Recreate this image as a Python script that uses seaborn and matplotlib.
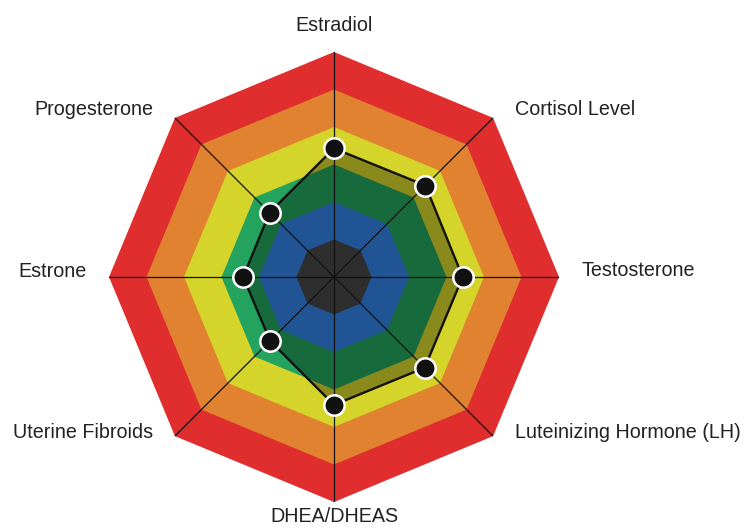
import numpy as np
import matplotlib
matplotlib.use("Agg")
import matplotlib.pyplot as plt
import seaborn as sns

# ---- data ----
categories = ["Estradiol", "Cortisol Level", "Testosterone", "Luteinizing Hormone (LH)",
              "DHEA/DHEAS", "Uterine Fibroids", "Estrone", "Progesterone"]
values = [3.43, 3.45, 3.43, 3.42, 3.41, 2.41, 2.42, 2.43]
band_levels = [6, 5, 4, 3, 2, 1]
band_colors = ["#e02d2e", "#e0822f", "#d5d42b", "#23a35d", "#3381e4", "#474747"]

sns.set_theme(style="white")
plt.rcParams["font.family"] = ["Liberation Sans", "DejaVu Sans"]

fig = plt.figure(figsize=(7.46, 5.31), dpi=100)
ax = fig.add_axes([109 / 746, 29 / 531, 450 / 746, 450 / 531], projection="polar")
ax.set_theta_zero_location("N")
ax.set_theta_direction(-1)

n = len(categories)
theta = np.arange(n) * 2 * np.pi / n
theta_c = np.append(theta, theta[0])

# bands (octagons)
for lvl, col in zip(band_levels, band_colors):
    ax.fill(theta_c, [lvl] * (n + 1), color=col, lw=0, zorder=1)

# data polygon
vals_c = values + values[:1]
ax.fill(theta_c, vals_c, color="black", alpha=0.35, lw=0, zorder=2)
ax.plot(theta_c, vals_c, color="#111111", lw=1.7, zorder=3)

# spokes
for t in theta:
    ax.plot([t, t], [0, band_levels[0]], color="#111111", lw=0.9, zorder=4)

# markers
sns.scatterplot(x=theta, y=values, ax=ax, s=215, color="#111111",
                edgecolor="white", linewidth=1.8, zorder=5, clip_on=False)

ax.set_ylim(0, 6)
ax.set_xticks([])
ax.set_yticks([])
ax.grid(False)
ax.spines["polar"].set_visible(False)
ax.set_xlabel("")
ax.set_ylabel("")
ax.patch.set_alpha(0)

offsets = [(0, 27, "center"), (22, 8, "left"), (23, 6, "left"), (22, 4, "left"),
           (0, -14, "center"), (-22, 4, "right"), (-22, 6, "right"), (-22, 8, "right")]
for t, lab, (dx, dy, ha) in zip(theta, categories, offsets):
    ax.annotate(lab, xy=(t, 6), xytext=(dx, dy), textcoords="offset pixels",
                ha=ha, va="center", fontsize=14.2, color="#222222",
                annotation_clip=False)

fig.savefig("out.png", dpi=100)
